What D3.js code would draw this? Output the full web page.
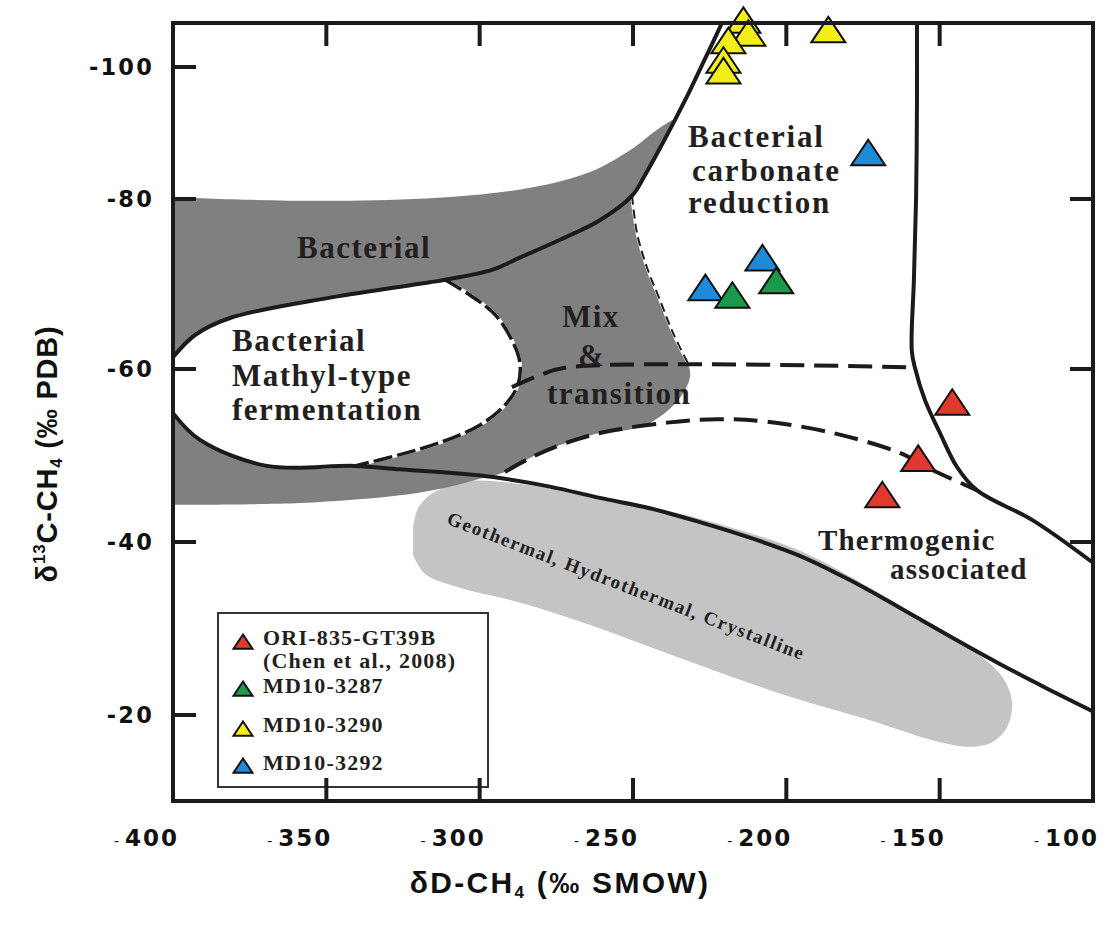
<!DOCTYPE html>
<html>
<head>
<meta charset="utf-8">
<script src="https://cdn.jsdelivr.net/npm/d3@7"></script>
<style>
  body { margin: 0; background: #fff; }
  svg { display: block; }
</style>
</head>
<body>
<svg id="chart" width="1109" height="925"></svg>
<script>
// Genetic classification of methane: δD-CH4 against δ13C-CH4

// ---- axis ticks ----
const xTickValues = [-400, -350, -300, -250, -200, -150, -100];
const xInnerTicks = [-350, -300, -250, -200, -150];
const yTickValues = [-100, -80, -60, -40, -20];
const yRightTicks = [-80, -60, -40];

// ---- sample series: [δD, δ13C] ----
const ori835 = [[-145.9, -55.7], [-157.0, -49.2], [-168.7, -45.0]];
const md3287 = [[-203.3, -69.9], [-217.6, -68.2]];
const md3290 = [[-214.0, -106.3], [-212.4, -104.4], [-218.9, -103.3], [-220.5, -100.4], [-220.5, -98.8], [-186.3, -104.9]];
const md3292 = [[-173.3, -86.4], [-207.8, -72.6], [-226.4, -69.1]];

// ---- field boundaries: [δD, δ13C] ----
const bandTop = [[-400, -80.3], [-374.9, -79.9], [-342.3, -79.8], [-309.7, -80.3], [-283.6, -81.7], [-264.0, -84.1], [-251.0, -87.4], [-241.2, -90.8], [-236.3, -92.0]];
const bacterialLower = [[-221.0, -106.5], [-224.3, -103.3], [-228.2, -99.6], [-232.1, -95.8], [-236.3, -92.0], [-241.2, -87.7], [-246.1, -83.6], [-250.3, -80.5], [-260.8, -77.5], [-273.8, -75.2], [-286.9, -73.1], [-295.7, -71.7], [-311.3, -70.5], [-316.2, -70.2], [-348.8, -68.4], [-381.4, -66.0], [-392.8, -64.0], [-400, -61.4]];
const ellipseEast = [[-311.3, -70.5], [-303.2, -68.7], [-295.0, -66.4], [-289.5, -63.4], [-286.9, -60.8], [-287.5, -58.2], [-291.8, -55.8], [-300.0, -53.5], [-312.9, -51.5], [-326.0, -50.1], [-340.7, -48.8]];
const lowerSolid = [[-400, -54.9], [-391.2, -51.8], [-369.4, -48.8], [-340.7, -48.8], [-326.0, -48.4], [-303.2, -47.8], [-293.4, -47.4], [-277.1, -46.4], [-260.8, -45.1], [-244.5, -43.9], [-228.2, -42.3], [-211.9, -40.5], [-195.6, -38.4], [-179.3, -35.6], [-163.0, -32.4], [-146.7, -29.1], [-130.4, -25.9], [-114.1, -22.9], [-100, -20.4]];
const mixBoundary = [[-250.3, -80.5], [-248.7, -76.0], [-245.5, -72.0], [-241.2, -68.1], [-236.9, -64.2], [-232.1, -60.7]];
const mixLowerEdge = [[-231.4, -59.1], [-234.0, -57.0], [-239.6, -54.9], [-246.1, -53.5], [-254.3, -52.8]];
const transitionUpper = [[-289.5, -57.9], [-280.4, -59.3], [-271.5, -60.2], [-158.7, -60.2]];
const transitionLower = [[-291.8, -48.1], [-283.6, -49.7], [-273.8, -51.2], [-260.8, -52.6], [-238.9, -53.8], [-222.6, -54.2], [-206.3, -53.9], [-184.8, -52.6], [-163.0, -50.3], [-152.2, -48.3], [-137.9, -46.0]];
const bandBottom = [[-300.0, -47.3], [-309.7, -46.4], [-326.0, -45.4], [-358.6, -44.5], [-400, -44.3]];
const thermoLine = [[-157.4, -106.5], [-157.4, -95.0], [-157.7, -79.9], [-158.4, -70.5], [-159.1, -62.2], [-158.1, -60.2], [-154.8, -56.4], [-149.9, -52.6], [-144.4, -48.7], [-137.9, -46.0], [-119.6, -42.5], [-100, -37.6]];
const geothermal = [[-321.7, -41.7], [-320.1, -43.9], [-315.6, -45.6], [-308.7, -46.6], [-301.5, -47.1], [-286.9, -46.7], [-260.8, -45.2], [-228.2, -42.7], [-195.6, -39.0], [-172.7, -34.7], [-153.2, -30.5], [-138.5, -27.3], [-129.4, -24.3], [-126.4, -21.5], [-128.0, -18.6], [-132.6, -16.9], [-140.1, -16.3], [-151.6, -17.0], [-172.7, -19.4], [-202.1, -22.5], [-234.7, -26.6], [-264.0, -30.4], [-286.9, -33.0], [-306.4, -34.7], [-317.8, -36.3], [-321.7, -38.5]];

const seriesNames = ["ORI-835-GT39B", "MD10-3287", "MD10-3290", "MD10-3292"];
const seriesColors = ["#e2382d", "#1b9a4a", "#f4ef1a", "#1f8ad8"];

// ---- scales ----
const plot = { left: 173, right: 1093, top: 23, bottom: 801 };
const x = d3.scaleLinear().domain([-400, -100]).range([plot.left, plot.right]);
// the printed δ13C axis has a compressed top interval
const y = d3.scaleLinear()
  .domain([-106.5, -100, -80, -60, -40, -20, -10])
  .range([plot.top, 67, 199, 369, 542, 715, plot.bottom]);

const svg = d3.select("#chart");
const ink = "#1c1a1b";
const serif = "'Liberation Serif', 'Times New Roman', serif";
const sans = "'DejaVu Sans', Arial, sans-serif";
const titleFont = "'Liberation Sans', Arial, sans-serif";

const smooth = d3.line().x(d => x(d[0])).y(d => y(d[1])).curve(d3.curveCatmullRom.alpha(0.5));
const area = pts => smooth(pts) + "Z";

// ---- filled fields ----
svg.append("path").attr("d", area(geothermal)).attr("fill", "#c4c4c4");

const darkField = [].concat(
  bandTop,
  bacterialLower.slice(5, 7),
  mixBoundary,
  mixLowerEdge,
  transitionLower.slice(0, 4).reverse(),
  bandBottom
);
svg.append("path").attr("d", area(darkField)).attr("fill", "#808080");

const ellipseField = [].concat(
  bacterialLower.slice(12),
  lowerSolid.slice(0, 3),
  ellipseEast.slice().reverse().slice(0, -1)
);
svg.append("path").attr("d", area(ellipseField)).attr("fill", "#ffffff");

// ---- boundary lines ----
const lines = svg.append("g").attr("fill", "none").attr("stroke-linecap", "butt").attr("stroke-linejoin", "round");
lines.append("path").attr("d", smooth(mixBoundary)).attr("stroke", "#fff").attr("stroke-width", 3);
lines.append("path").attr("d", smooth(mixBoundary)).attr("stroke", ink).attr("stroke-width", 2).attr("stroke-dasharray", "9 5");
lines.append("path").attr("d", smooth(ellipseEast)).attr("stroke", "#fff").attr("stroke-width", 3.5);
lines.append("path").attr("d", smooth(ellipseEast)).attr("stroke", ink).attr("stroke-width", 3.5).attr("stroke-dasharray", "19 5");
lines.append("path").attr("d", smooth(transitionUpper)).attr("stroke", ink).attr("stroke-width", 4).attr("stroke-dasharray", "24 10");
lines.append("path").attr("d", smooth(transitionLower)).attr("stroke", ink).attr("stroke-width", 4).attr("stroke-dasharray", "24 10");
lines.append("path").attr("d", smooth(bacterialLower)).attr("stroke", ink).attr("stroke-width", 4);
lines.append("path").attr("d", smooth(lowerSolid)).attr("stroke", ink).attr("stroke-width", 4);
lines.append("path").attr("d", smooth(thermoLine)).attr("stroke", ink).attr("stroke-width", 4);

// ---- field labels ----
const labels = svg.append("g").attr("font-family", serif).attr("font-weight", "bold").attr("fill", "#231f20");
function label(rows, x0, baselines, size, spacing) {
  rows.forEach((t, i) => {
    labels.append("text").attr("x", x0[i]).attr("y", baselines[i])
      .attr("font-size", size).attr("letter-spacing", spacing).text(t);
  });
}
label(["Bacterial"], [297], [258], 31, 1.5);
label(["Bacterial", "carbonate", "reduction"], [688, 692, 688], [147, 181, 213], 31, 1.8);
label(["Mix", "&", "transition"], [562, 578, 547], [327, 366, 404], 31, 1.5);
label(["Bacterial", "Mathyl-type", "fermentation"], [232, 232, 232], [351, 386, 420], 31, 1.5);
label(["Thermogenic", "associated"], [818, 890], [550, 579], 29, 1.2);

labels.append("text")
  .attr("transform", "translate(624,592) rotate(21)")
  .attr("text-anchor", "middle").attr("font-size", 19).attr("letter-spacing", 1.6)
  .text("Geothermal, Hydrothermal, Crystalline");

// ---- sample markers ----
const triangle = {
  draw(ctx, size) {
    const w = Math.sqrt(size);
    ctx.moveTo(0, -w * 0.5);
    ctx.lineTo(w * 0.5, w * 0.25);
    ctx.lineTo(-w * 0.5, w * 0.25);
    ctx.closePath();
  }
};
const bigTri = d3.symbol().type(triangle).size(34 * 34);
function plotSeries(data, color) {
  svg.append("g").selectAll("path").data(data).join("path")
    .attr("d", bigTri)
    .attr("transform", d => `translate(${x(d[0])},${y(d[1])})`)
    .attr("fill", color).attr("stroke", "#111").attr("stroke-width", 2).attr("stroke-linejoin", "miter");
}
plotSeries(md3290, seriesColors[2]);
plotSeries(md3292, seriesColors[3]);
plotSeries(md3287, seriesColors[1]);
plotSeries(ori835, seriesColors[0]);

// ---- legend ----
const legend = svg.append("g");
legend.append("rect").attr("x", 218).attr("y", 613).attr("width", 270).attr("height", 174)
  .attr("fill", "#fff").attr("stroke", "#333").attr("stroke-width", 2);
const smallTri = d3.symbol().type(triangle).size(19 * 19);
const legendRows = [
  { rows: [seriesNames[0], "(Chen et al., 2008)"], color: seriesColors[0], ty: 644, by: [645, 668] },
  { rows: [seriesNames[1]], color: seriesColors[1], ty: 691, by: [693] },
  { rows: [seriesNames[2]], color: seriesColors[2], ty: 731, by: [732] },
  { rows: [seriesNames[3]], color: seriesColors[3], ty: 768, by: [770] }
];
legendRows.forEach(r => {
  legend.append("path").attr("d", smallTri).attr("transform", `translate(243,${r.ty})`)
    .attr("fill", r.color).attr("stroke", "#111").attr("stroke-width", 2);
  r.rows.forEach((t, i) => {
    legend.append("text").attr("x", 263).attr("y", r.by[i])
      .attr("font-family", serif).attr("font-weight", "bold").attr("font-size", 22)
      .attr("letter-spacing", 1.2).attr("fill", "#231f20").text(t);
  });
});

// ---- frame and ticks ----
const axes = svg.append("g").attr("stroke", ink).attr("stroke-width", 4);
axes.append("rect").attr("x", plot.left).attr("y", plot.top)
  .attr("width", plot.right - plot.left).attr("height", plot.bottom - plot.top).attr("fill", "none");
const tl = 23;
xInnerTicks.forEach(v => {
  axes.append("line").attr("x1", x(v)).attr("x2", x(v)).attr("y1", plot.top).attr("y2", plot.top + tl);
  axes.append("line").attr("x1", x(v)).attr("x2", x(v)).attr("y1", plot.bottom).attr("y2", plot.bottom - tl);
});
yTickValues.forEach(v => {
  axes.append("line").attr("x1", plot.left).attr("x2", plot.left + tl).attr("y1", y(v)).attr("y2", y(v));
});
yRightTicks.forEach(v => {
  axes.append("line").attr("x1", plot.right).attr("x2", plot.right - tl).attr("y1", y(v)).attr("y2", y(v));
});

// tick labels
const tickText = svg.append("g").attr("font-family", sans).attr("font-weight", "bold").attr("fill", "#111");
yTickValues.forEach(v => {
  tickText.append("text").attr("x", plot.left - 19).attr("y", y(v)).attr("dy", "0.36em")
    .attr("text-anchor", "end").attr("font-size", 22.5).attr("letter-spacing", 2.2).text(v);
});
xTickValues.forEach(v => {
  const t = tickText.append("text").attr("x", x(v) + 6).attr("y", 846)
    .attr("text-anchor", "end").attr("font-size", 23).attr("letter-spacing", 2);
  t.append("tspan").attr("font-weight", "normal").attr("font-size", 14).text("-");
  t.append("tspan").attr("dx", 4).text(Math.abs(v));
});

// axis titles
const xTitle = svg.append("text").attr("x", 560).attr("y", 893).attr("text-anchor", "middle")
  .attr("font-family", titleFont).attr("font-weight", "bold")
  .attr("font-size", 30).attr("letter-spacing", 2.3).attr("fill", "#111");
xTitle.append("tspan").text("δD-CH");
xTitle.append("tspan").attr("font-size", 17).attr("dy", 5).text("4");
xTitle.append("tspan").attr("dy", -5).text(" (‰ SMOW)");

const yTitle = svg.append("text").attr("transform", "translate(57,454) rotate(-90)").attr("text-anchor", "middle")
  .attr("font-family", titleFont).attr("font-weight", "bold")
  .attr("font-size", 29).attr("letter-spacing", 0.8).attr("fill", "#111");
yTitle.append("tspan").text("δ");
yTitle.append("tspan").attr("font-size", 17).attr("dy", -12).text("13");
yTitle.append("tspan").attr("dy", 12).text("C-CH");
yTitle.append("tspan").attr("font-size", 17).attr("dy", 5).text("4");
yTitle.append("tspan").attr("dy", -5).text(" (‰ PDB)");
</script>
</body>
</html>
